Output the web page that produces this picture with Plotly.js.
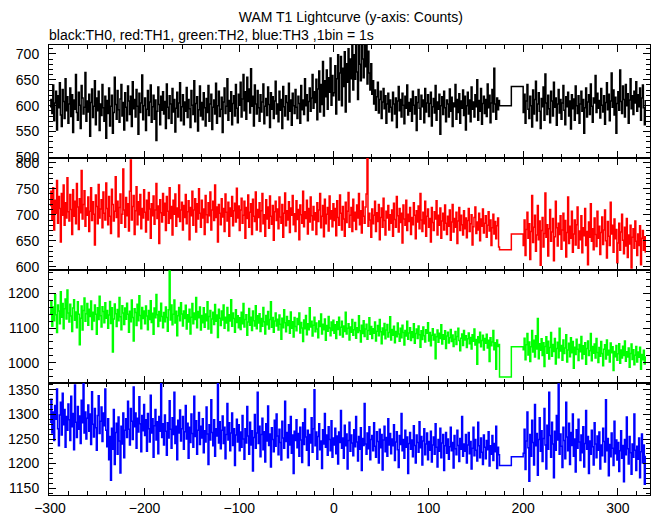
<!DOCTYPE html>
<html>
<head>
<meta charset="utf-8">
<script src="https://cdn.plot.ly/plotly-3.0.1.min.js"></script>
<style>html,body{margin:0;padding:0;background:#fff;}#chart{width:652px;height:515px;}</style>
</head>
<body>
<div id="chart"></div>
<script>
// ---- time grid (1 bin = 1 s) ----
const preStart = -300;      // first 1-s bin before the data gap
const postStart = 200;      // first 1-s bin after the data gap
const gapBinStarts = [175, 187.5]; // two wide bins inside the gap

// ---- TH0 (black) ----
const TH0_pre = [
598,612,585,640,571,605,628,553,619,596,644,582,560,631,608,575,652,590,617,566,
603,634,579,621,548,611,593,660,587,572,626,601,556,639,615,584,597,664,570,609,
588,622,541,606,632,577,599,648,563,615,590,628,552,603,581,641,596,570,618,537,
610,585,634,561,599,620,547,587,655,602,574,629,592,568,613,641,580,606,553,625,
597,571,638,609,583,618,560,646,594,612,578,631,599,545,624,587,605,659,573,600,
615,552,593,629,581,607,640,568,598,620,574,611,533,589,636,602,563,618,591,627,
584,608,556,642,597,575,619,603,566,633,588,612,549,595,626,578,605,644,571,598,
621,563,607,589,635,577,612,594,558,629,601,583,648,569,604,617,551,592,638,580,
606,573,625,596,561,614,587,639,570,603,622,554,597,611,584,643,566,600,628,579,
593,616,548,607,634,585,599,652,572,610,589,627,563,604,619,580,641,595,567,622,
601,645,578,613,660,590,627,574,655,608,632,586,671,599,618,561,640,603,584,629,
596,570,621,588,607,642,565,599,614,581,636,602,558,625,593,617,575,609,647,584,
603,569,628,591,612,556,637,598,580,619,606,573,643,589,611,562,624,600,585,631,
597,575,618,604,566,639,592,611,583,652,600,621,571,608,634,589,615,660,595,627,
606,651,573,632,667,588,641,602,685,580,648,617,669,593,654,626,692,601,658,619,
625,677,584,652,698,611,663,695,600,672,637,704,588,681,645,710,607,690,652,719,
630,698,651,725,665,612,725,680,648,730,690,654,728,675,721,642,705,663,630,681,
622,648,603,630,591,617,645,586,612,628,575,607,633,594,619,566,603,624,588,611,
597,571,626,603,584,615,558,609,637,590,612,578,624,601,565,618,595,640,582,606,
589,613,570,628,601,584,617,552,606,631,595,574,620,598,611,567,633,588,605,621,
579,604,626,561,598,614,586,639,572,607,593,622,545,600,617,583,628,596,569,611,
603,578,632,589,616,560,605,598,641,574,612,587,623,566,609,595,630,581,618,553,
600,626,584,611,569,636,593,607,578,621,598,650,572,610,589,633,564,604,618,585,
612,579,642,596,620,567,605,631,588,672,603,574,615,592,610
];
const TH0_gap = [600, 637];
const TH0_post = [
587,622,566,609,641,593,575,618,600,559,630,584,612,647,571,603,625,589,556,614,
598,636,572,661,605,583,620,594,567,628,609,580,645,597,615,562,603,631,586,612,
574,605,639,591,563,617,598,626,580,609,555,621,594,613,572,638,600,585,619,566,
603,628,589,612,547,596,634,578,607,621,583,642,599,568,615,605,658,587,624,595,
610,576,633,601,588,619,564,606,644,592,622,571,609,663,597,630,582,616,547,604,
627,591,669,608,585,638,612,578,641,600,623,566,611,652,594,619,583,628,605,646,
589,621,598,634,572,615,640,596,563,611
];

// ---- TH1 (red) ----
const TH1_pre = [
718,745,690,752,671,728,703,766,684,735,712,648,741,699,757,680,723,694,771,706,
688,739,710,662,748,697,726,683,760,715,672,731,704,785,692,720,746,678,713,699,
734,668,707,752,689,725,701,642,738,716,683,758,694,711,729,675,744,703,690,761,
712,681,735,697,664,749,720,688,707,773,695,726,658,714,740,684,701,788,709,676,
733,698,721,669,745,805,690,716,737,662,708,754,681,725,700,739,673,712,694,748,
705,667,728,690,743,711,655,721,698,736,682,709,760,693,717,645,729,704,686,741,
699,722,670,735,707,684,752,693,716,661,728,701,740,678,713,696,757,687,709,724,
671,718,695,739,683,706,727,652,714,698,745,680,709,731,667,721,692,750,703,676,
728,694,711,662,737,700,685,723,698,744,671,709,726,689,757,695,715,648,720,703,
681,731,696,712,668,740,705,688,724,659,713,697,735,679,708,722,686,751,694,717,
670,709,732,684,699,726,655,714,693,738,676,705,721,662,730,697,687,744,671,710,
695,723,668,708,741,683,700,659,729,692,715,674,736,697,682,718,651,706,726,689,
711,673,734,696,684,720,657,703,742,679,708,690,725,666,713,699,737,681,702,668,
727,691,710,652,719,700,684,745,677,706,693,728,663,712,686,734,698,671,716,690,
704,662,723,687,709,741,675,697,718,658,730,683,701,714,669,736,692,708,677,721,
689,712,660,727,695,680,738,703,671,716,692,659,724,685,707,743,676,699,714,668,
730,688,705,672,719,694,741,681,708,665,726,697,684,715,740,812,678,703,690,657,
711,683,699,726,668,704,687,720,652,695,713,676,732,689,661,707,694,718,671,700,
684,709,659,722,691,676,735,698,667,712,685,703,646,719,692,680,728,670,701,687,
714,662,695,681,723,699,654,708,686,717,673,741,690,668,705,683,726,659,697,711,
676,693,648,714,685,670,706,692,727,661,699,680,713,655,688,703,671,719,684,662,
697,678,709,651,686,720,667,693,676,705,645,688,714,670,699,681,661,708,673,694,
656,689,712,668,683,700,642,677,695,715,664,686,671,703,650,692,678,711,665,684,
698,657,680,706,669,690,641,675,701,663,687,654,679,694,638
];
const TH1_gap = [633, 663];
const TH1_post = [
641,690,622,672,705,655,683,614,668,737,647,676,699,630,661,718,652,688,603,670,
695,638,664,742,657,681,621,673,710,649,667,693,612,658,726,675,640,684,662,698,
634,671,703,650,689,619,666,734,645,678,655,707,628,663,690,642,681,715,636,669,
652,698,627,675,660,712,641,668,604,686,657,721,649,673,633,694,662,639,707,655,
678,624,666,696,643,671,709,650,617,687,659,641,724,663,680,628,692,654,672,608,
646,684,632,667,701,651,625,676,640,693,618,661,644,680,598,657,673,636,688,649,
622,663,641,679,604,655,670,632,658,627
];

// ---- TH2 (green) ----
const TH2_pre = [
1142,1178,1105,1160,1121,1195,1138,1087,1166,1149,1112,1204,1131,1170,1098,1155,1183,1126,1209,1143,
1117,1168,1134,1090,1157,1181,1122,1146,1101,1175,1139,1052,1128,1163,1094,1150,1186,1119,1141,1170,
1108,1154,1133,1177,1096,1145,1120,1166,1139,1082,1158,1124,1191,1135,1103,1161,1147,1115,1172,1128,
1150,1099,1137,1176,1113,1158,1031,1126,1169,1141,1104,1153,1121,1187,1132,1095,1164,1143,1110,1157,
1125,1171,1139,1088,1148,1118,1180,1130,1063,1155,1144,1107,1168,1121,1192,1136,1098,1159,1127,1149,
1112,1163,1134,1095,1150,1124,1178,1116,1142,1082,1157,1129,1196,1138,1104,1147,1120,1171,1133,1101,
1144,1118,1160,1130,1091,1152,1263,1123,1166,1109,1139,1180,1114,1148,1078,1135,1159,1121,1172,1140,
1106,1149,1127,1165,1097,1138,1117,1154,1083,1131,1170,1112,1143,1124,1187,1101,1147,1129,1160,1094,
1136,1115,1158,1102,1140,1121,1175,1097,1133,1150,1086,1126,1145,1110,1167,1119,1137,1073,1154,1128,
1107,1149,1123,1166,1099,1131,1114,1159,1092,1138,1120,1181,1105,1143,1127,1088,1152,1116,1135,1101,
1129,1096,1145,1112,1170,1103,1124,1138,1079,1117,1156,1108,1131,1093,1149,1121,1106,1164,1098,1135,
1114,1141,1090,1127,1105,1159,1118,1083,1136,1109,1147,1097,1124,1175,1102,1130,1088,1120,1143,1106,
1125,1094,1137,1111,1068,1128,1101,1152,1115,1089,1133,1107,1121,1085,1146,1099,1118,1074,1130,1104,
1092,1127,1110,1143,1086,1116,1100,1061,1123,1098,1136,1081,1112,1095,1158,1103,1119,1077,1108,1131,
1089,1114,1097,1072,1120,1104,1140,1083,1111,1095,1126,1065,1107,1091,1133,1100,1078,1117,1093,1122,
1085,1109,1070,1118,1096,1131,1080,1102,1119,1074,1106,1090,1145,1083,1099,1112,1066,1103,1088,1124,
1079,1095,1116,1071,1101,1087,1135,1092,1060,1108,1084,1121,1076,1097,1111,1068,1093,1129,1082,1104,
1070,1098,1085,1117,1063,1091,1107,1078,1124,1089,1055,1100,1081,1113,1069,1094,1110,1074,1087,1132,
1066,1096,1079,1105,1058,1090,1075,1114,1083,1062,1099,1072,1108,1087,1051,1093,1077,1119,1068,1086,
1101,1064,1089,1073,1112,1056,1084,1097,1070,1106,1081,1045,1092,1067,1103,1078,1060,1095,1085,1115,
1063,1087,1049,1079,1098,1066,1082,1012,1075,1094,1059,1085,1070,1109,1054,1081,1068,1092,1041,1077,
1088,1057,1072,1096,1061,1080,1047,1068,1090,1053,1076,1099,1064,1035,1071,1083,1050,1093,1066,1078,
1044,1069,1086,1055,1073,1040,1081,1062,1097,1051,1067,996,1075,1058,1088,1046,1064,1079,1037,1070,
1056,1082,1043,1065,1004,1072,1049,1060,1093,1038,1058,982,1066,1047,1053
];
const TH2_gap = [960, 1046];
const TH2_post = [
1038,1071,1009,1052,1084,1023,1060,1004,1046,1093,1031,1065,1017,1078,1040,1127,1012,1055,1036,1069,
1021,1058,990,1047,1075,1028,1062,1011,1044,1087,1019,1053,1033,1070,997,1041,1059,1015,1099,1034,
1050,1008,1066,1027,1043,1081,1003,1037,1056,1018,1072,1029,1061,985,1045,1024,1068,1039,1007,1053,
1032,1076,1012,1049,1025,1058,996,1041,1063,1021,1035,1084,1006,1047,1028,1054,1014,1070,1030,1001,
1044,1019,1061,1027,992,1039,1052,1011,1066,1023,1036,1003,1057,1029,1046,978,1033,1018,1050,1008,
1026,1055,999,1037,1014,1048,1021,1063,1005,1032,1017,1043,988,1027,1054,1010,1038,995,1022,1047,
1003,1031,1016,1045,982,1024,1009,1036,997,1019
];

// ---- TH3 (blue) ----
const TH3_pre = [
1284,1331,1262,1305,1247,1318,1290,1352,1271,1236,1299,1325,1258,1343,1279,1310,1233,1296,1268,1321,
1289,1247,1337,1275,1302,1228,1360,1284,1253,1316,1270,1297,1241,1329,1283,1366,1262,1305,1250,1292,
1319,1266,1301,1239,1346,1280,1254,1312,1273,1227,1298,1338,1261,1286,1315,1245,1303,1277,1352,1268,
1234,1291,1208,1255,1166,1272,1229,1310,1198,1263,1282,1219,1295,1246,1181,1276,1240,1303,1212,1268,
1291,1253,1327,1270,1238,1312,1286,1249,1356,1275,1303,1231,1292,1264,1336,1281,1224,1298,1267,1320,
1257,1289,1225,1302,1271,1244,1339,1262,1291,1213,1277,1310,1248,1285,1220,1296,1266,1364,1253,1281,
1238,1299,1266,1217,1283,1252,1328,1270,1231,1293,1259,1345,1241,1276,1208,1288,1262,1309,1246,1271,
1296,1229,1265,1318,1250,1282,1211,1274,1243,1301,1261,1233,1337,1255,1287,1219,1268,1304,1239,1276,
1252,1291,1222,1267,1244,1315,1260,1198,1279,1248,1330,1263,1236,1289,1215,1271,1256,1366,1242,1285,
1230,1268,1297,1241,1274,1210,1259,1322,1248,1283,1226,1262,1303,1237,1271,1196,1258,1290,1244,1279,
1226,1264,1233,1298,1250,1209,1271,1242,1316,1256,1219,1284,1238,1267,1185,1253,1300,1231,1262,1345,
1241,1276,1214,1259,1292,1228,1265,1203,1281,1246,1317,1237,1260,1193,1273,1249,1224,1288,1235,1301,
1256,1218,1270,1243,1207,1286,1252,1231,1327,1245,1263,1212,1279,1238,1296,1221,1258,1180,1266,1247,
1289,1232,1261,1215,1274,1248,1202,1283,1239,1311,1254,1227,1268,1196,1259,1242,1293,1223,1271,1350,
1236,1264,1209,1255,1281,1228,1246,1190,1269,1240,1302,1233,1258,1217,1275,1249,1226,1287,1213,1252,
1238,1272,1220,1256,1199,1264,1243,1308,1231,1252,1211,1278,1236,1260,1189,1247,1284,1225,1258,1242,
1216,1269,1234,1296,1244,1205,1255,1229,1273,1186,1251,1237,1322,1240,1219,1262,1230,1275,1208,1249,
1257,1226,1283,1235,1213,1265,1245,1201,1270,1232,1259,1187,1248,1276,1224,1253,1215,1291,1238,1261,
1220,1250,1236,1279,1206,1244,1265,1228,1192,1257,1239,1302,1226,1249,1211,1268,1233,1254,1180,1241,
1263,1229,1248,1214,1277,1237,1201,1258,1243,1223,1285,1232,1255,1197,1246,1271,1218,1240,1262,1208,
1245,1227,1266,1203,1238,1254,1219,1281,1233,1193,1249,1225,1272,1212,1242,1259,1186,1236,1263,1221,
1250,1209,1234,1274,1226,1243,1191,1257,1230,1218,1268,1237,1204,1251,1229,1296,1215,1240,1225,1259,
1201,1238,1263,1220,1245,1189,1231,1274,1216,1249,1227,1205,1284,1236,1212,1252,1223,1198,1258,1233,
1210,1247,1228,1265,1195,1236,1219,1257,1206,1241,1224,1276,1190,1233,1218
];
const TH3_gap = [1196, 1214];
const TH3_post = [
1221,1270,1188,1246,1305,1232,1164,1259,1215,1288,1243,1197,1320,1236,1261,1176,1249,1293,1225,1267,
1204,1251,1312,1238,1189,1278,1229,1345,1257,1213,1284,1240,1171,1266,1227,1298,1248,1362,1219,1260,
1235,1192,1274,1247,1210,1325,1254,1226,1282,1198,1263,1237,1301,1215,1250,1183,1269,1231,1290,1244,
1206,1258,1222,1275,1193,1241,1308,1229,1255,1180,1246,1219,1268,1234,1197,1283,1240,1212,1256,1227,
1264,1189,1238,1216,1272,1245,1203,1330,1226,1251,1175,1239,1214,1262,1231,1196,1286,1220,1248,1207,
1243,1184,1226,1267,1211,1237,1163,1249,1218,1295,1230,1199,1255,1222,1178,1240,1213,1301,1227,1186,
1235,1209,1252,1171,1224,1260,1201,1238,1158,1216
];

// ---- build traces ----
const preTimes = TH0_pre.map((_, i) => preStart + i);
const postTimes = TH0_post.map((_, i) => postStart + i);
const times = preTimes.concat(gapBinStarts, postTimes);

const FONT = 'Liberation Sans, Arial, Helvetica, sans-serif';

function trace(pre, gap, post, color, xa, ya) {
  return {
    type: 'scatter', mode: 'lines',
    x: times, y: pre.concat(gap, post),
    line: {color: color, width: 1.5, shape: 'hv'},
    xaxis: xa, yaxis: ya, hoverinfo: 'skip', showlegend: false
  };
}

const data = [
  trace(TH0_pre, TH0_gap, TH0_post, '#000000', 'x', 'y'),
  trace(TH1_pre, TH1_gap, TH1_post, '#ff0000', 'x2', 'y2'),
  trace(TH2_pre, TH2_gap, TH2_post, '#00ff00', 'x3', 'y3'),
  trace(TH3_pre, TH3_gap, TH3_post, '#0000ff', 'x4', 'y4')
];

function xAxis(anchor, labels) {
  return {
    anchor: anchor, range: [-301, 334], showline: true, linecolor: '#000', linewidth: 1,
    mirror: 'allticks', ticks: 'inside', ticklen: 7, tickwidth: 1, tickcolor: '#000',
    tick0: 0, dtick: 100,
    minor: {dtick: 20, ticks: 'inside', ticklen: 4, tickcolor: '#000'},
    showgrid: false, zeroline: false, showticklabels: labels,
    tickfont: {family: FONT, size: 14, color: '#000'}
  };
}
function yAxis(anchor, domain, range, dtick, minorD) {
  return {
    anchor: anchor, domain: domain, range: range, showline: true, linecolor: '#000', linewidth: 1,
    mirror: 'allticks', ticks: 'inside', ticklen: 7, tickwidth: 1, tickcolor: '#000',
    tick0: 0, dtick: dtick,
    minor: {dtick: minorD, ticks: 'inside', ticklen: 4, tickcolor: '#000'},
    showgrid: false, zeroline: false, ticklabelstandoff: 6,
    tickfont: {family: FONT, size: 14, color: '#000'}
  };
}

const layout = {
  width: 652, height: 515,
  margin: {l: 49, r: 2, t: 45, b: 20, pad: 0},
  paper_bgcolor: '#fff', plot_bgcolor: '#fff',
  font: {family: FONT, color: '#000'},
  title: {text: 'WAM T1 Lightcurve (y-axis: Counts)', font: {family: FONT, size: 14, color: '#000'},
          xref: 'container', x: 0.538, xanchor: 'center', yref: 'container', y: 0.967, yanchor: 'middle'},
  xaxis: xAxis('y', false),
  xaxis2: Object.assign(xAxis('y2', false), {matches: 'x'}),
  xaxis3: Object.assign(xAxis('y3', false), {matches: 'x'}),
  xaxis4: Object.assign(xAxis('y4', true), {matches: 'x'}),
  yaxis: yAxis('x', [0.75, 1], [500, 717], 50, 10),
  yaxis2: yAxis('x2', [0.5, 0.75], [594, 810], 50, 10),
  yaxis3: yAxis('x3', [0.25, 0.5], [944, 1266], 100, 20),
  yaxis4: yAxis('x4', [0, 0.25], [1136, 1365], 50, 10),
  annotations: [{
    text: 'black:TH0, red:TH1, green:TH2, blue:TH3 ,1bin = 1s',
    xref: 'paper', yref: 'paper', x: -0.003, y: 1.022, xanchor: 'left', yanchor: 'middle',
    showarrow: false, font: {family: FONT, size: 14, color: '#000'}
  }]
};

Plotly.newPlot('chart', data, layout, {staticPlot: true, displayModeBar: false});
</script>
</body>
</html>
